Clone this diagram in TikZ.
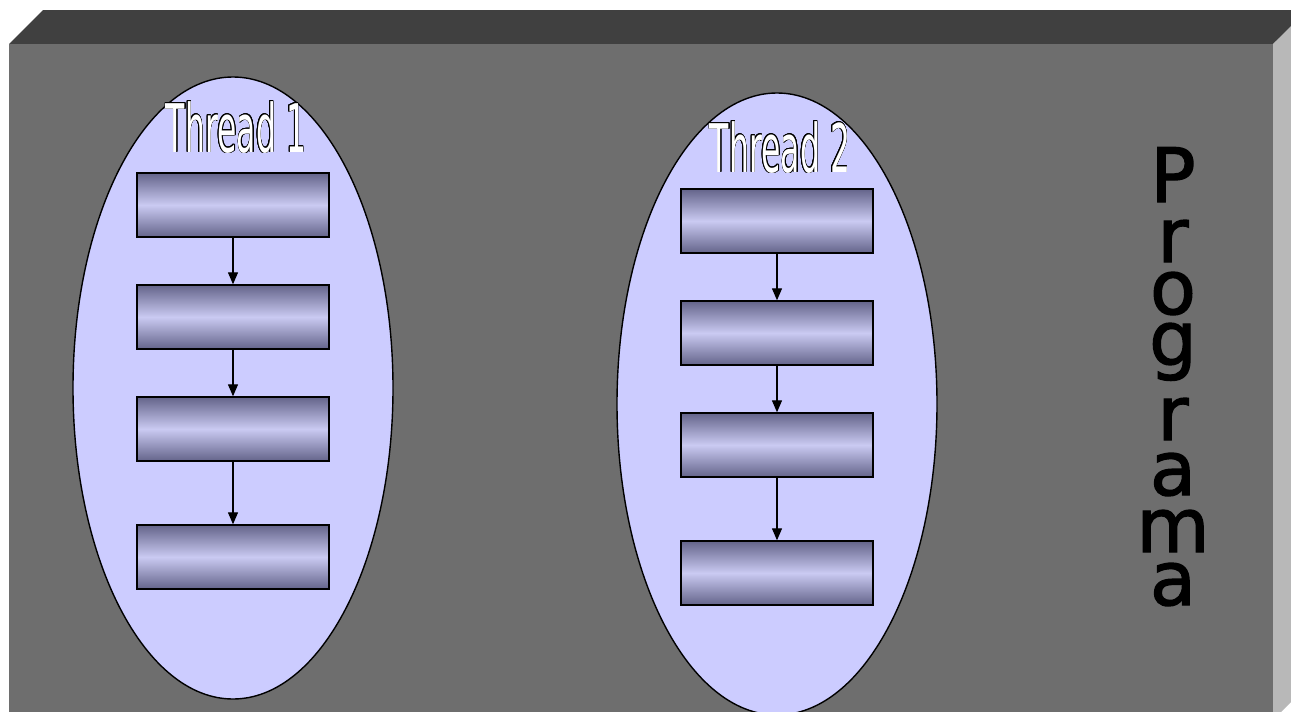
\documentclass[tikz,border=0pt]{standalone}
\usepackage{fontspec}
\setmainfont{DejaVu Sans}
\newfontfamily\progfont[FakeBold=1.8]{DejaVu Sans}
\usepackage{contour}
\contourlength{0.7pt}
\usetikzlibrary{arrows.meta,shapes.geometric}
\definecolor{frontc}{HTML}{6E6E6E}
\definecolor{topc}{HTML}{404040}
\definecolor{sidec}{HTML}{B8B8B8}
\definecolor{ellc}{HTML}{CCCCFF}
\definecolor{boxdark}{HTML}{64648A}
\definecolor{boxlight}{HTML}{CACAF2}
\tikzset{
  stepbox/.style={draw=black, line width=1.4pt, minimum width=192pt, minimum height=64pt, inner sep=0pt,
    top color=boxdark, bottom color=boxdark, middle color=boxlight, shading angle=0},
  threadell/.style={draw=black, line width=1.4pt, fill=ellc, ellipse, inner sep=0pt},
  flow/.style={draw=black, line width=1.3pt, -{Triangle[length=12pt,width=10pt]}},
  ttl/.style={inner sep=0pt, anchor=base, font=\fontsize{67}{67}\selectfont},
  prog/.style={inner sep=0pt, anchor=base, font=\progfont\fontsize{75}{75}\selectfont, text=black,
    text height=42pt, text depth=0pt}
}
\begin{document}
\begin{tikzpicture}[x=1pt,y=-1pt]
\useasboundingbox (0,0) rectangle (1291,712);
\clip (0,0) rectangle (1291,712);
% box faces
\fill[topc] (9,44) -- (43,10) -- (1310,10) -- (1273,44) -- cycle;
\fill[sidec] (1273,44) -- (1307,10) -- (1307,686) -- (1273,720) -- cycle;
\fill[frontc] (9,44) rectangle (1273,720);
% threads
\node[threadell, minimum width=320pt, minimum height=622pt] (e1) at (233,388) {};
\node[threadell, minimum width=320pt, minimum height=622pt] (e2) at (777,404) {};
\node[ttl] (t1) at (236,152) {\contour{black}{\textcolor{white}{\scalebox{0.47}[1]{Thread 1}}}};
\node[ttl] (t2) at (780,172) {\contour{black}{\textcolor{white}{\scalebox{0.47}[1]{Thread 2}}}};
% boxes thread 1
\node[stepbox] (a1) at (233,205) {};
\node[stepbox] (a2) at (233,317) {};
\node[stepbox] (a3) at (233,429) {};
\node[stepbox] (a4) at (233,557) {};
% boxes thread 2
\node[stepbox] (b1) at (777,221) {};
\node[stepbox] (b2) at (777,333) {};
\node[stepbox] (b3) at (777,445) {};
\node[stepbox] (b4) at (777,573) {};
\draw[flow] (a1.south) -- (a2.north);
\draw[flow] (a2.south) -- (a3.north);
\draw[flow] (a3.south) -- (a4.north);
\draw[flow] (b1.south) -- (b2.north);
\draw[flow] (b2.south) -- (b3.north);
\draw[flow] (b3.south) -- (b4.north);
% Programa
\node[prog, text height=55pt] (p1) at (1173,202) {P};
\node[prog] (p2) at (1173,262) {r};
\node[prog] (p3) at (1173,314) {o};
\node[prog, text depth=16pt] (p4) at (1173,365) {g};
\node[prog] (p5) at (1173,440) {r};
\node[prog] (p6) at (1173,495) {a};
\node[prog] (p7) at (1173,552) {m};
\node[prog] (p8) at (1173,605) {a};
\end{tikzpicture}
\end{document}
